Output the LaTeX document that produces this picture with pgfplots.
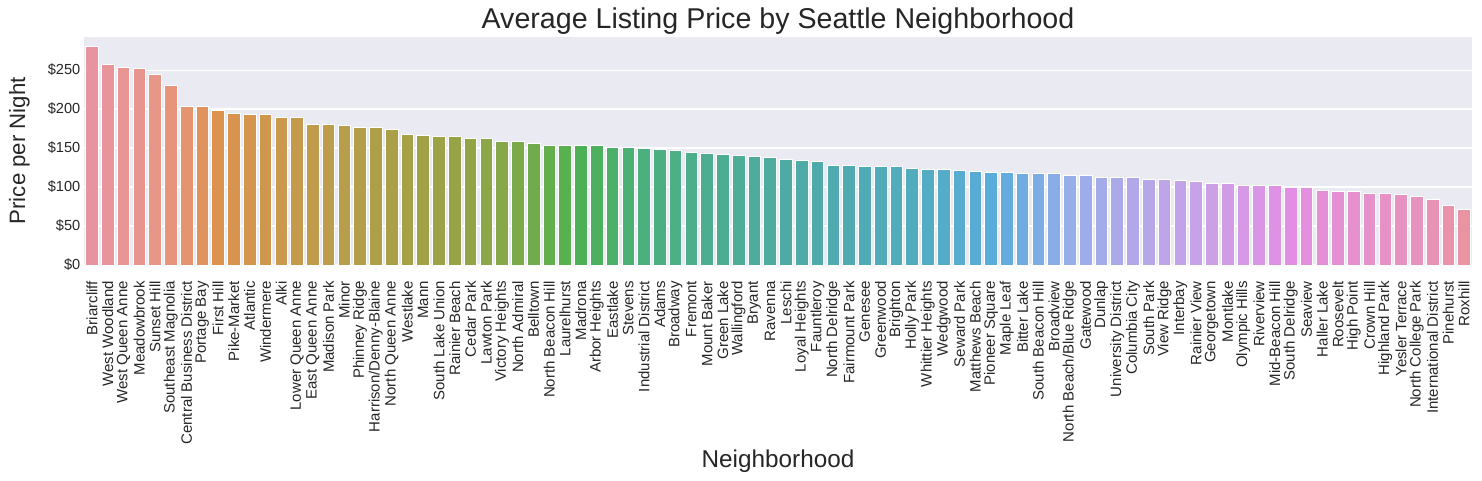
\documentclass[border=0pt]{standalone}
\usepackage{fontspec}
\setmainfont{Liberation Sans}
\usepackage{pgfplots}
\pgfplotsset{compat=1.18}
\definecolor{bgc}{HTML}{EAEAF2}
\definecolor{txt}{RGB}{38,38,38}
\pgfplotsset{
  colormap={husl}{
    rgb255(0pt)=(232,148,160)
    rgb255(4pt)=(232,150,136)
    rgb255(6pt)=(228,148,110)
    rgb255(8pt)=(221,146,80)
    rgb255(12pt)=(203,153,78)
    rgb255(16pt)=(184,158,75)
    rgb255(21pt)=(161,161,70)
    rgb255(26pt)=(134,168,72)
    rgb255(30pt)=(88,177,78)
    rgb255(31pt)=(77,176,85)
    rgb255(35pt)=(75,176,125)
    rgb255(44pt)=(78,171,163)
    rgb255(52pt)=(82,172,190)
    rgb255(57pt)=(90,172,218)
    rgb255(59pt)=(110,172,226)
    rgb255(62pt)=(150,175,233)
    rgb255(66pt)=(178,168,233)
    rgb255(71pt)=(205,160,229)
    rgb255(76pt)=(227,142,228)
    rgb255(79pt)=(230,144,212)
    rgb255(84pt)=(232,146,190)
    rgb255(87pt)=(232,148,162)
  },
  b/.style={/utils/exec={\pgfmathsetmacro\cv{#1*11.4942}},
    color of colormap={\cv of husl}, fill=., draw=white, line width=0.5pt},
}
\begin{document}
\begin{tikzpicture}
\begin{axis}[
  scale only axis,
  width=999.4pt, height=164.5pt,
  ybar, bar width=0.8, bar shift=0pt,
  xmin=-0.5, xmax=87.5, ymin=0, ymax=293,
  axis background/.style={fill=bgc},
  axis line style={draw=none},
  major tick length=0pt,
  ymajorgrids, grid style={white, line width=0.8pt},
  ytick={0,50,100,150,200,250},
  yticklabels={\$0,\$50,\$100,\$150,\$200,\$250},
  xtick={0,...,87},
  xticklabels={Briarcliff,West Woodland,West Queen Anne,Meadowbrook,Sunset Hill,Southeast Magnolia,Central Business District,Portage Bay,First Hill,Pike-Market,Atlantic,Windermere,Alki,Lower Queen Anne,East Queen Anne,Madison Park,Minor,Phinney Ridge,Harrison/Denny-Blaine,North Queen Anne,Westlake,Mann,South Lake Union,Rainier Beach,Cedar Park,Lawton Park,Victory Heights,North Admiral,Belltown,North Beacon Hill,Laurelhurst,Madrona,Arbor Heights,Eastlake,Stevens,Industrial District,Adams,Broadway,Fremont,Mount Baker,Green Lake,Wallingford,Bryant,Ravenna,Leschi,Loyal Heights,Fauntleroy,North Delridge,Fairmount Park,Genesee,Greenwood,Brighton,Holly Park,Whittier Heights,Wedgwood,Seward Park,Matthews Beach,Pioneer Square,Maple Leaf,Bitter Lake,South Beacon Hill,Broadview,North Beach/Blue Ridge,Gatewood,Dunlap,University District,Columbia City,South Park,View Ridge,Interbay,Rainier View,Georgetown,Montlake,Olympic Hills,Riverview,Mid-Beacon Hill,South Delridge,Seaview,Haller Lake,Roosevelt,High Point,Crown Hill,Highland Park,Yesler Terrace,North College Park,International District,Pinehurst,Roxhill},
  /pgf/number format/assume math mode=true,
  xticklabel style={rotate=90, anchor=east, inner sep=0pt, xshift=-11.5pt, font=\fontsize{10.8}{12}\selectfont, text=txt},
  yticklabel style={anchor=east, inner sep=0pt, xshift=-2.5pt, font=\fontsize{10.5}{12}\selectfont, text=txt},
  title={Average Listing Price by Seattle Neighborhood},
  title style={at={(axis description cs:0.5,1)}, anchor=base, font=\fontsize{20.6}{24}\selectfont, text=txt, inner sep=0pt},
  xlabel={Neighborhood},
  xlabel style={at={(axis description cs:0.5,-0.885)}, anchor=base, font=\fontsize{17.5}{20}\selectfont, text=txt, inner sep=0pt},
  ylabel={Price per Night},
  ylabel style={at={(axis description cs:-0.0425,0.5)}, anchor=base, rotate=0, font=\fontsize{16}{20}\selectfont, text=txt, inner sep=0pt},
]
\addplot[b=0] coordinates {(0,280)};
\addplot[b=1] coordinates {(1,257)};
\addplot[b=2] coordinates {(2,253)};
\addplot[b=3] coordinates {(3,252)};
\addplot[b=4] coordinates {(4,244)};
\addplot[b=5] coordinates {(5,230)};
\addplot[b=6] coordinates {(6,203)};
\addplot[b=7] coordinates {(7,203)};
\addplot[b=8] coordinates {(8,198)};
\addplot[b=9] coordinates {(9,194)};
\addplot[b=10] coordinates {(10,193)};
\addplot[b=11] coordinates {(11,193)};
\addplot[b=12] coordinates {(12,189)};
\addplot[b=13] coordinates {(13,189)};
\addplot[b=14] coordinates {(14,180)};
\addplot[b=15] coordinates {(15,180)};
\addplot[b=16] coordinates {(16,179)};
\addplot[b=17] coordinates {(17,177)};
\addplot[b=18] coordinates {(18,177)};
\addplot[b=19] coordinates {(19,174)};
\addplot[b=20] coordinates {(20,167)};
\addplot[b=21] coordinates {(21,166)};
\addplot[b=22] coordinates {(22,164.5)};
\addplot[b=23] coordinates {(23,164.5)};
\addplot[b=24] coordinates {(24,163)};
\addplot[b=25] coordinates {(25,162)};
\addplot[b=26] coordinates {(26,158)};
\addplot[b=27] coordinates {(27,158)};
\addplot[b=28] coordinates {(28,155.5)};
\addplot[b=29] coordinates {(29,154)};
\addplot[b=30] coordinates {(30,153)};
\addplot[b=31] coordinates {(31,153)};
\addplot[b=32] coordinates {(32,153)};
\addplot[b=33] coordinates {(33,150.5)};
\addplot[b=34] coordinates {(34,150.5)};
\addplot[b=35] coordinates {(35,149)};
\addplot[b=36] coordinates {(36,148)};
\addplot[b=37] coordinates {(37,146.5)};
\addplot[b=38] coordinates {(38,145)};
\addplot[b=39] coordinates {(39,142.7)};
\addplot[b=40] coordinates {(40,141.4)};
\addplot[b=41] coordinates {(41,140)};
\addplot[b=42] coordinates {(42,139)};
\addplot[b=43] coordinates {(43,137.6)};
\addplot[b=44] coordinates {(44,135)};
\addplot[b=45] coordinates {(45,134.6)};
\addplot[b=46] coordinates {(46,133.3)};
\addplot[b=47] coordinates {(47,128.2)};
\addplot[b=48] coordinates {(48,128.2)};
\addplot[b=49] coordinates {(49,127)};
\addplot[b=50] coordinates {(50,127)};
\addplot[b=51] coordinates {(51,127)};
\addplot[b=52] coordinates {(52,124.4)};
\addplot[b=53] coordinates {(53,123)};
\addplot[b=54] coordinates {(54,123)};
\addplot[b=55] coordinates {(55,121.8)};
\addplot[b=56] coordinates {(56,120.5)};
\addplot[b=57] coordinates {(57,119.2)};
\addplot[b=58] coordinates {(58,119.2)};
\addplot[b=59] coordinates {(59,118)};
\addplot[b=60] coordinates {(60,118)};
\addplot[b=61] coordinates {(61,118)};
\addplot[b=62] coordinates {(62,115.4)};
\addplot[b=63] coordinates {(63,115.4)};
\addplot[b=64] coordinates {(64,112.8)};
\addplot[b=65] coordinates {(65,112.8)};
\addplot[b=66] coordinates {(66,112.8)};
\addplot[b=67] coordinates {(67,110.3)};
\addplot[b=68] coordinates {(68,110.3)};
\addplot[b=69] coordinates {(69,109)};
\addplot[b=70] coordinates {(70,107.7)};
\addplot[b=71] coordinates {(71,105)};
\addplot[b=72] coordinates {(72,105)};
\addplot[b=73] coordinates {(73,102.6)};
\addplot[b=74] coordinates {(74,102.6)};
\addplot[b=75] coordinates {(75,102.6)};
\addplot[b=76] coordinates {(76,100)};
\addplot[b=77] coordinates {(77,100)};
\addplot[b=78] coordinates {(78,96.2)};
\addplot[b=79] coordinates {(79,95)};
\addplot[b=80] coordinates {(80,95)};
\addplot[b=81] coordinates {(81,92.3)};
\addplot[b=82] coordinates {(82,92.3)};
\addplot[b=83] coordinates {(83,91)};
\addplot[b=84] coordinates {(84,88.5)};
\addplot[b=85] coordinates {(85,84.6)};
\addplot[b=86] coordinates {(86,77)};
\addplot[b=87] coordinates {(87,72)};
\end{axis}
\pgfresetboundingbox
\path (-60.5pt,-155.5pt) rectangle (1006.6pt,190.8pt);
\end{tikzpicture}
\end{document}
